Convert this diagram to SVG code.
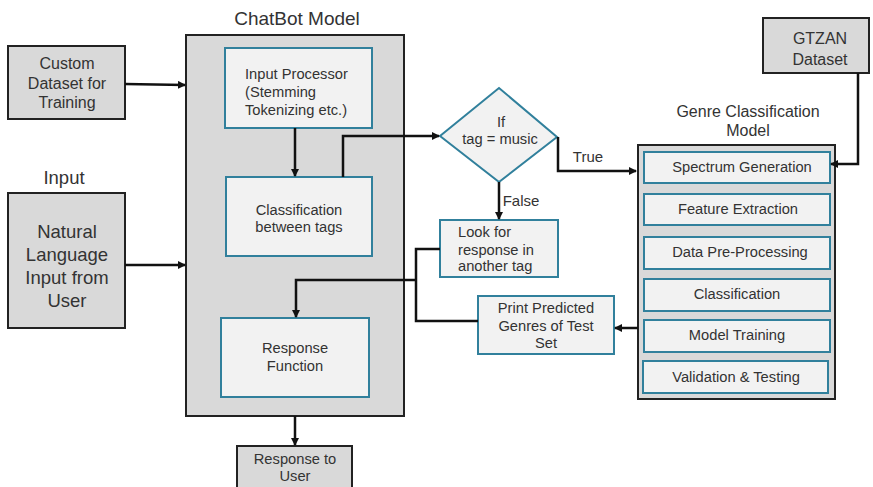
<svg xmlns="http://www.w3.org/2000/svg" width="873" height="487" viewBox="0 0 873 487">
<defs>
<marker id="ah" markerWidth="8" markerHeight="8" refX="7" refY="4" orient="auto" markerUnits="userSpaceOnUse">
<path d="M0,0 L8,4 L0,8 z" fill="#111"/>
</marker>
<style>
text{font-family:"Liberation Sans",Arial,sans-serif;fill:#333;}
.outer{fill:#d9d9d9;stroke:#222;stroke-width:2;}
.inner{fill:#f2f2f2;stroke:#31809c;stroke-width:2;}
.c{text-anchor:middle;}
.l{text-anchor:start;}
.conn{fill:none;stroke:#111;stroke-width:2.5;}
.t19{font-size:19px;}
.t18{font-size:18.5px;}
.t16{font-size:16px;}
.t15{font-size:15px;}
.t14{font-size:14.7px;}
</style>
</defs>
<rect width="873" height="487" fill="#fff"/>

<g id="chatbot">
<text class="c t19" x="297" y="25">ChatBot Model</text>
<rect class="outer" x="186" y="35" width="218" height="381"/>
</g>

<g id="custom-dataset">
<rect class="outer" x="8" y="46" width="117" height="73"/>
<text class="c t16" x="67" y="69">Custom</text>
<text class="c t16" x="67" y="89">Dataset for</text>
<text class="c t16" x="67" y="108">Training</text>
</g>

<g id="natural-input">
<text class="c t18" x="64" y="184">Input</text>
<rect class="outer" x="8" y="193" width="117" height="135"/>
<text class="c t18" x="67" y="238">Natural</text>
<text class="c t18" x="67" y="261">Language</text>
<text class="c t18" x="67" y="284">Input from</text>
<text class="c t18" x="67" y="307">User</text>
</g>

<g id="input-processor">
<rect class="inner" x="225" y="48" width="147" height="80"/>
<text class="l t14" x="245" y="79">Input Processor</text>
<text class="l t14" x="245" y="97">(Stemming</text>
<text class="l t14" x="245" y="115">Tokenizing etc.)</text>
</g>

<g id="classification-tags">
<rect class="inner" x="226" y="177" width="146" height="79"/>
<text class="c t14" x="299" y="215">Classification</text>
<text class="c t14" x="299" y="232">between tags</text>
</g>

<g id="response-function">
<rect class="inner" x="221" y="318" width="148" height="79"/>
<text class="c t14" x="295" y="353">Response</text>
<text class="c t14" x="295" y="371">Function</text>
</g>

<g id="response-user">
<rect class="outer" x="237" y="446" width="115" height="46"/>
<text class="c t14" x="295" y="464">Response to</text>
<text class="c t14" x="295" y="481">User</text>
</g>

<g id="decision">
<polygon points="440,136 499,88 557,137 499,182" fill="#f2f2f2" stroke="#31809c" stroke-width="2"/>
<text class="c t14" x="501" y="127">If</text>
<text class="c t14" x="500" y="144">tag = music</text>
</g>

<g id="look-response">
<rect class="inner" x="440" y="220" width="118" height="57"/>
<text class="l t14" x="458" y="237">Look for</text>
<text class="l t14" x="458" y="255">response in</text>
<text class="l t14" x="458" y="271">another tag</text>
</g>

<g id="print-predicted">
<rect class="inner" x="478" y="296" width="136" height="58"/>
<text class="c t14" x="546" y="313">Print Predicted</text>
<text class="c t14" x="546" y="331">Genres of Test</text>
<text class="c t14" x="546" y="348">Set</text>
</g>

<g id="gtzan">
<rect class="outer" x="763" y="18" width="106" height="55"/>
<text class="c t16" x="820" y="44">GTZAN</text>
<text class="c t16" x="820" y="65">Dataset</text>
</g>

<g id="genre-model">
<text class="c t16" x="748" y="117">Genre Classification</text>
<text class="c t16" x="748" y="136">Model</text>
<rect class="outer" x="638" y="145" width="197" height="254"/>
<rect class="inner" x="644" y="152" width="186" height="31"/>
<text class="c t14" x="742" y="172">Spectrum Generation</text>
<rect class="inner" x="644" y="194" width="186" height="31"/>
<text class="c t14" x="738" y="214">Feature Extraction</text>
<rect class="inner" x="644" y="237" width="186" height="32"/>
<text class="c t14" x="740" y="257">Data Pre-Processing</text>
<rect class="inner" x="644" y="279" width="186" height="32"/>
<text class="c t14" x="737" y="299">Classification</text>
<rect class="inner" x="644" y="320" width="186" height="32"/>
<text class="c t14" x="737" y="340">Model Training</text>
<rect class="inner" x="643" y="361" width="185" height="32"/>
<text class="c t14" x="736" y="382">Validation &amp; Testing</text>
</g>

<g id="connectors">
<line class="conn" x1="125" y1="84" x2="185" y2="85" marker-end="url(#ah)"/>
<line class="conn" x1="125" y1="265" x2="185" y2="265" marker-end="url(#ah)"/>
<line class="conn" x1="295" y1="128" x2="295" y2="176" marker-end="url(#ah)"/>
<polyline class="conn" points="343,177 343,136 439,136" marker-end="url(#ah)"/>
<polyline class="conn" points="558,137 558,171 636,171" marker-end="url(#ah)"/>
<text class="c t15" x="588" y="162">True</text>
<line class="conn" x1="499" y1="182" x2="499" y2="219" marker-end="url(#ah)"/>
<text class="c t15" x="521" y="206">False</text>
<polyline class="conn" points="440,249 416,249 416,321 478,321"/>
<polyline class="conn" points="416,280 296,280 296,317" marker-end="url(#ah)"/>
<line class="conn" x1="638" y1="328" x2="615" y2="328" marker-end="url(#ah)"/>
<polyline class="conn" points="858,73 858,164 831,164" marker-end="url(#ah)"/>
<line class="conn" x1="295" y1="416" x2="295" y2="445" marker-end="url(#ah)"/>
</g>
</svg>
